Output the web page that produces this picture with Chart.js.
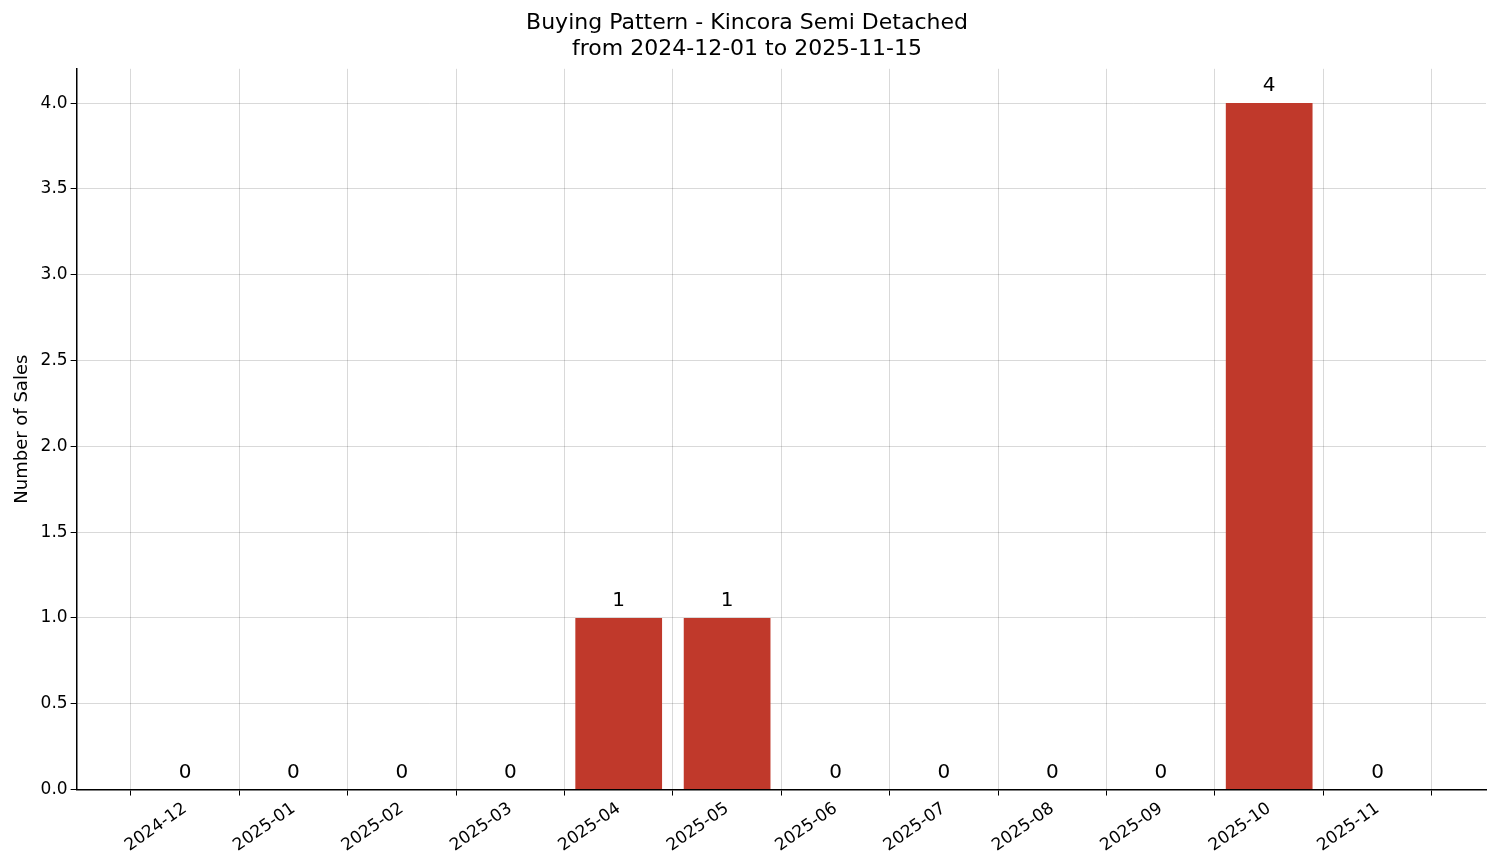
<!DOCTYPE html>
<html><head><meta charset="utf-8">
<script src="https://cdn.jsdelivr.net/npm/chart.js@4/dist/chart.umd.min.js"></script>
<style>html,body{margin:0;padding:0;background:#fff}#w{width:1501px;height:863px}</style>
</head><body><div id="w"><canvas id="c"></canvas></div>
<script>
const categories=["2024-12","2025-01","2025-02","2025-03","2025-04","2025-05","2025-06","2025-07","2025-08","2025-09","2025-10","2025-11"];
const sales=[0,0,0,0,1,1,0,0,0,0,4,0];
const yTicks=[0,0.5,1,1.5,2,2.5,3,3.5,4];
const F="DejaVu Sans";
const labelPlugin={id:'lbl',afterDatasetsDraw(ch){const c=ch.ctx;const m=ch.getDatasetMeta(0);c.save();c.font="20px "+F;c.fillStyle="#000";c.textAlign="center";c.textBaseline="bottom";
m.data.forEach((b,i)=>{c.fillText(String(sales[i]),b.x,b.y-7);});c.restore();}};
new Chart(document.getElementById('c'),{type:'bar',
data:{datasets:[{data:sales.map((v,i)=>({x:i,y:v})),backgroundColor:'#c0392b',barPercentage:0.8,categoryPercentage:1}]},
plugins:[labelPlugin],
options:{responsive:true,maintainAspectRatio:false,animation:false,
layout:{padding:{left:8,right:15,top:6,bottom:4}},
plugins:{legend:{display:false},tooltip:{enabled:false},
title:{display:true,text:["Buying Pattern - Kincora Semi Detached","from 2024-12-01 to 2025-11-15"],color:'#000',font:{family:F,size:22,weight:'normal'},padding:{top:4,bottom:6},lineHeight:1.2}},
scales:{x:{type:'linear',min:-1,max:12,offset:false,
afterBuildTicks(a){a.ticks=categories.map((_,i)=>({value:i}));},
ticks:{color:'#000',font:{family:F,size:17},maxRotation:35,minRotation:35,callback:v=>categories[v]??''},
grid:{color:'rgba(0,0,0,0.15)',drawTicks:true,tickColor:'#000',tickLength:6},border:{display:true,color:'#000',width:1.5,dash:undefined}},
y:{min:0,max:4.2,afterBuildTicks(a){a.ticks=yTicks.map(v=>({value:v}));},
ticks:{color:'#000',font:{family:F,size:17},callback:v=>v.toFixed(1)},
title:{display:true,text:'Number of Sales',color:'#000',font:{family:F,size:18}},
grid:{color:'rgba(0,0,0,0.15)',tickColor:'#000',tickLength:6},border:{color:'#000',width:1.5}}}}});
</script></body></html>
